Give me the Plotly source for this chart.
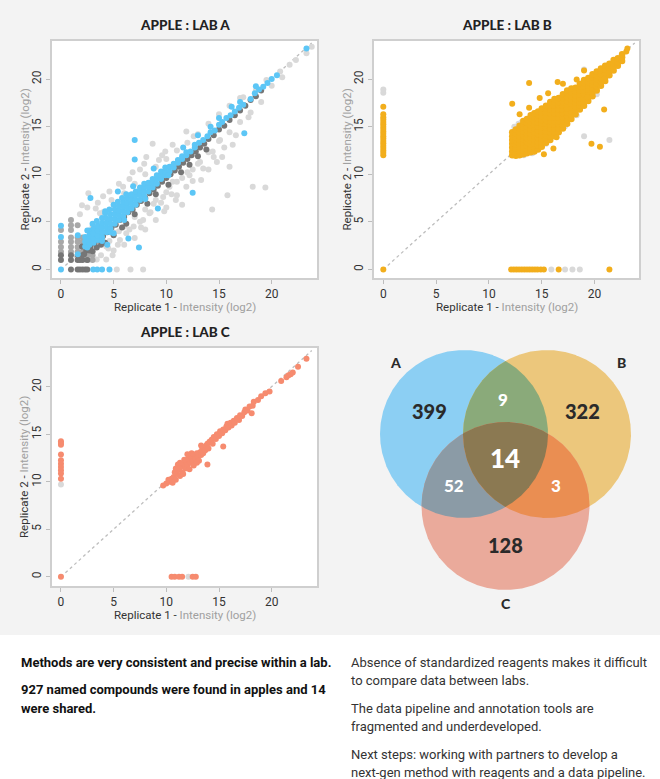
import math
import plotly.graph_objects as go

W, H = 660, 779

# ---------------- DATA ----------------
tick_vals = [0, 5, 10, 15, 20]
panel_titles = ["APPLE : LAB A", "APPLE : LAB B", "APPLE : LAB C"]
x_title = "Replicate 1 - <span style='color:#a0a0a0'>Intensity (log2)</span>"
y_title = "Replicate 2 - <span style='color:#a0a0a0'>Intensity (log2)</span>"
diag_range = [0, 23.8]

# Lab A
a_light = [(11.9,14.5),(8.7,13.2),(10.6,13.1),(9.9,12.4),(8.1,11.8),(7.9,11.1),(5.9,8.7),(4.6,8.2),(4.0,7.7),(2.6,8.0),
           (2.0,6.75),(3.7,5.9),(13.2,11.3),(14.4,12.4),(15.1,13.6),(14.8,11.3),(16.3,13.1),(16.0,10.8),(15.8,7.8),(14.35,6.3),
           (18.2,8.7),(19.4,8.6),(11.9,8.7),(10.9,7.3),(10.3,8.7),(9.7,7.6),(8.8,6.9),(8.4,5.9),(7.8,5.2),(6.9,4.5),
           (6.2,3.8),(5.6,3.1),(5.0,2.0),(4.3,2.4),(7.8,0),(5.3,0),(3.4,1.05),(2.75,1.05),(17.3,18.1),(18.5,18.8),
           (19.5,19.9),(20.8,20.8),(21.7,21.5),(23.3,22.7),(23.8,23.4),(3.0,4.5),(4.0,6.0),(5.0,6.8),(6.0,8.0),(7.0,9.0),
           (8.0,10.0),(9.0,10.8),(10.0,11.6),(11.0,12.5),(12.0,13.3),(13.0,14.2),(14.0,15.3),(15.0,16.3),(16.0,17.2),(17.0,18.0),
           (3.0,1.8),(4.0,2.9),(5.0,3.9),(6.0,4.5),(7.0,5.5),(8.0,6.3),(9.0,7.3),(10.0,8.1),(11.0,9.2),(12.0,10.2),
           (13.0,11.1),(14.0,12.3),(15.0,13.5),(16.0,14.4),(17.0,15.5),(18.0,16.5),(19.0,17.6),(4.5,2.2),(5.5,4.0),(6.5,4.2),
           (7.5,5.0),(8.5,6.0),(9.5,7.0),(10.5,7.9),(11.5,9.6),(12.5,10.5),(13.5,10.6),(14.5,11.8),(15.5,12.8),(6.5,9.5),
           (5.5,9.0),(7.5,10.5),(9.3,11.5),(3.5,7.0),(2.5,6.5),(1.8,5.8),(6.0,2.6),(7.0,3.3),(8.0,4.2),(9.0,5.2),
           (10.0,6.5),(11.0,7.8),(12.5,9.3),(11.5,6.8),(13.3,9.4),(16.6,14.1),(17.8,16.0),(20.0,19.3),(21.0,20.2),(22.3,22.0),
           (6.6,0),(4.3,1.05),(3.8,1.5),(4.9,1.5),(6.8,10.2),(9.6,12.0),(12.6,14.0),(4.6,3.0),(5.4,2.6),(7.6,4.4),
           (9.8,6.1),(10.6,9.2),(12.2,9.9),(14.0,10.5),(15.3,11.8),(3.3,6.4),(4.8,7.3)]
a_mid = [(0,4.13),(0,2.9),(0,2.37),(0,1.85),(0.95,5.2),(0.95,4.65),(0.95,4.13),(0.95,3.36),(0.95,2.9),(0.95,2.37),
         (0.95,1.85),(1.58,3.36),(1.58,2.9),(1.58,2.37),(1.58,1.85),(2.05,3.36),(2.05,2.9),(2.05,2.37),(2.05,1.85),(2.5,1.85),
         (2.5,1.5),(3.0,1.5),(1.58,4.65),(2.5,0.98),(3.0,0.98)]
a_dark = [(0,1.5),(0,0.98),(0.95,0),(0.95,0.98),(0.95,1.5),(1.58,0),(1.8,0),(2.05,0),(2.3,0),(2.5,0),
          (1.58,0.98),(1.8,0.98),(2.05,0.98),(2.5,0.98),(1.58,1.5),(2.05,1.5),(2.4,2.0),(2.8,2.3),(3.2,2.7),(3.6,3.1),
          (4.0,3.5),(4.4,3.9),(4.8,4.4),(5.2,4.7),(5.6,5.2),(6.0,5.5),(6.4,6.0),(6.8,6.3),(7.2,6.8),(7.6,7.2),
          (8.0,7.5),(8.4,8.0),(8.8,8.4),(9.2,8.8),(9.6,9.2),(10.0,9.6),(10.4,10.0),(10.8,10.4),(11.2,10.8),(11.6,11.2),
          (12.0,11.6),(12.4,12.0),(12.8,12.4),(13.2,12.8),(13.6,13.2),(14.0,13.7),(14.5,14.1),(15.0,14.7),(15.5,15.1),(16.0,15.7),
          (16.5,16.2),(17.0,16.7),(17.5,17.2),(18.0,17.8),(18.5,18.2),(19.0,18.8),(2.2,1.6),(2.6,2.6),(3.0,1.9),(3.4,2.3),
          (4.2,2.8),(5.0,3.6),(5.8,4.4),(6.2,4.8),(7.0,5.8),(8.2,6.9),(9.0,7.9),(10.2,8.9),
          (11.4,10.2),(12.2,11.0),(13.0,11.9),(13.8,12.6),(2.0,2.4),(2.7,2.0),(3.8,2.6)]
a_blue = [(0,0),(0,3.4),(0,4.6),(1.6,1.6),(1.6,3.6),(3.06,0),(3.44,0),(3.9,0),(4.6,0),
          (2.3,2.4),(2.3,2.9),(2.3,3.4),(2.7,2.6),(2.7,3.1),(2.7,3.6),(2.7,4.1),
          (3.1,2.8),(3.1,3.3),(3.1,3.8),(3.1,4.3),(3.0,4.8),(3.5,3.1),(3.5,3.6),(3.5,4.1),(3.5,4.6),(3.4,5.1),
          (3.9,3.4),(3.9,3.9),(3.9,4.4),(3.9,4.9),(3.9,5.4),(4.3,3.9),(4.3,4.4),(4.3,4.9),(4.3,5.4),(4.2,5.9),
          (4.7,4.3),(4.7,4.8),(4.7,5.3),(4.7,5.8),(4.6,6.3),(5.1,4.8),(5.1,5.3),(5.1,5.8),(5.1,6.3),(5.0,6.8),
          (5.5,5.2),(5.5,5.7),(5.5,6.2),(5.5,6.7),(5.4,7.1),(5.9,5.6),(5.9,6.1),(5.9,6.6),(5.9,7.1),(5.8,7.5),
          (6.3,6.0),(6.3,6.5),(6.3,7.0),(6.3,7.5),(6.7,6.4),(6.7,6.9),(6.7,7.4),(6.7,7.9),(6.2,7.9),
          (7.1,6.8),(7.1,7.3),(7.1,7.8),(7.1,8.2),(7.5,7.3),(7.5,7.8),(7.5,8.3),(7.5,8.6),
          (7.9,7.7),(7.9,8.2),(7.9,8.7),(7.9,9.0),(8.3,8.2),(8.3,8.7),(8.3,9.1),(8.7,8.6),(8.7,9.1),(8.7,9.5),
          (9.1,9.0),(9.1,9.5),(9.1,9.9),(9.5,9.5),(9.5,9.9),(9.5,10.3),(9.9,9.9),(9.9,10.3),(9.9,10.7),
          (10.3,10.3),(10.3,10.8),(10.7,10.7),(10.7,11.1),(11.1,11.2),(11.1,11.5),(11.5,11.6),(11.5,11.9),
          (11.9,12.0),(11.9,12.3),(12.3,12.4),(12.7,12.8),(12.7,13.1),(13.1,13.3),(13.5,13.6),(13.9,14.0),
          (14.2,14.4),(14.6,14.6),(15.0,15.2),(15.3,15.5),(15.7,15.9),(16.1,16.2),(16.5,16.6),(16.9,17.0),
          (17.3,17.3),(18.0,17.9),(18.4,18.5),(18.8,18.9),(19.2,19.2),(19.6,19.6),(20.0,20.0),(20.5,20.4),(23.3,23.2),
          (7.0,13.6),(7.0,11.55),(17.4,14.3),(12.5,8.05),(2.8,7.5),(7.4,2.3),(6.4,3.25),(5.4,8.2),(6.85,8.75),
          (9.2,6.4),(18.5,19.25),(16.2,17.1),(15.0,15.9),(4.2,6.1),(2.5,4.1),(2.5,2.3),(8.8,10.6),(11.6,12.8),
          (13.0,14.1),(14.2,15.0),(17.0,17.6),(5.0,3.8),(4.4,2.6),(3.9,3.0),(4.7,3.9),(6.0,5.2),(8.0,7.4),(10.2,9.9)]

# Lab B
b_band_x = [12.2, 12.55, 12.9, 13.25, 13.6, 13.95, 14.3, 14.65, 15.0, 15.4, 15.8, 16.2, 16.6,
            17.0, 17.4, 17.8, 18.2, 18.6, 19.0, 19.4, 19.8, 20.2, 20.6, 21.0, 21.4, 21.8, 22.2, 22.6]
b_band_y = [[12.0,12.4,12.8,13.2,13.6,14.0,14.4],
            [11.95,12.3,12.7,13.1,13.5,13.9,14.3,14.7],
            [12.0,12.4,12.8,13.2,13.6,14.0,14.4,14.8,15.1],
            [12.1,12.5,12.9,13.3,13.7,14.1,14.5,14.9,15.3,15.6],
            [12.2,12.6,13.0,13.4,13.8,14.2,14.6,15.0,15.4,15.8],
            [12.3,12.7,13.1,13.5,13.9,14.3,14.7,15.1,15.5,15.9,16.2],
            [12.4,12.8,13.2,13.6,14.0,14.4,14.8,15.2,15.6,16.0,16.4],
            [12.6,13.0,13.4,13.8,14.2,14.6,15.0,15.4,15.8,16.2,16.6],
            [12.9,13.3,13.7,14.1,14.5,14.9,15.3,15.7,16.1,16.5,16.9],
            [13.3,13.7,14.1,14.5,14.9,15.3,15.7,16.1,16.5,16.9,17.2],
            [13.6,14.0,14.4,14.8,15.2,15.6,16.0,16.4,16.8,17.2,17.6],
            [14.0,14.4,14.8,15.2,15.6,16.0,16.4,16.8,17.2,17.6,17.9],
            [14.4,14.8,15.2,15.6,16.0,16.4,16.8,17.2,17.6,18.0],
            [14.8,15.2,15.6,16.0,16.4,16.8,17.2,17.6,18.0,18.4],
            [15.3,15.7,16.1,16.5,16.9,17.3,17.7,18.1,18.5,18.8],
            [15.8,16.2,16.6,17.0,17.4,17.8,18.2,18.6,19.0],
            [16.3,16.7,17.1,17.5,17.9,18.3,18.7,19.1],
            [16.8,17.2,17.6,18.0,18.4,18.8,19.2,19.5],
            [17.2,17.6,18.0,18.4,18.8,19.2,19.6,19.9],
            [17.7,18.1,18.5,18.9,19.3,19.7,20.1],
            [18.2,18.6,19.0,19.4,19.8,20.2,20.5],
            [18.8,19.2,19.6,20.0,20.4,20.8],
            [19.3,19.7,20.1,20.5,20.9,21.1],
            [19.8,20.2,20.6,21.0,21.4],
            [20.4,20.8,21.2,21.6],
            [20.9,21.3,21.7,22.0],
            [21.4,21.8,22.2],
            [21.9,22.3,22.6]]
b_left_y = [0, 12.0, 12.25, 12.5, 12.75, 13.0, 13.25, 13.5, 13.75, 14.0, 14.25, 14.5, 14.75,
            15.0, 15.25, 15.5, 15.75, 16.0, 16.3, 17.1]
b_bottom_x = [12.1, 12.35, 12.6, 12.85, 13.1, 13.35, 13.6, 13.85, 14.1, 14.35, 14.6, 14.9,
              15.2, 16.6, 21.4]
b_outliers = [(13.8,19.6),(12.2,17.4),(12.9,16.3),(13.8,17.0),(14.8,18.0),(15.6,18.5),(16.5,19.7),
              (17.0,19.5),(18.3,19.95),(19.0,20.9),(20.9,16.8),(19.7,13.2),(20.5,12.9),(15.2,12.1),
              (16.1,12.7),(16.4,13.9),(19.3,18.1),(23.0,22.9),(23.1,23.2)]
b_gray = [(0,18.9),(0,18.55),(19.0,14.0),(21.4,13.6),(17.2,15.05),(17.7,15.9),(18.0,16.9),(19.0,21.0),
          (12.4,15.0),(12.8,15.3),(13.1,15.5),(18.3,16.2),(16.4,14.6),(15.4,13.2),(15.9,0),(17.2,0),
          (17.9,0),(18.6,0),(13.3,12.0),(14.1,12.2),(20.2,18.4)]

# Lab C
c_main = [(9.7,9.6),(10.0,9.8),(10.3,10.0),(10.5,10.3),(10.2,10.2),(10.7,10.5),(10.9,10.2),(11.0,10.8),
          (10.8,11.0),(11.2,11.3),(11.3,10.6),(11.5,11.0),(11.4,11.6),(11.6,11.9),(11.8,11.4),(11.9,12.1),
          (11.1,11.8),(11.7,12.3),(12.0,11.7),(12.1,12.4),(12.3,12.0),(12.2,11.3),(12.4,12.6),(12.5,12.2),
          (12.6,11.7),(12.7,12.8),(12.8,12.4),(12.9,13.0),(13.0,12.6),(13.1,12.2),(13.2,13.1),(13.3,12.8),
          (13.4,13.4),(13.5,13.0),(13.6,13.6),(13.7,13.3),(13.8,13.8),(13.9,11.8),(13.9,14.0),(14.0,13.5),
          (14.1,14.2),(14.3,14.4),(14.4,14.0),(14.5,14.7),(14.7,14.5),(14.8,15.0),(15.0,14.8),(15.1,15.3),
          (15.3,15.1),(15.4,13.7),(15.4,15.5),(15.6,15.4),(15.7,15.8),(15.8,16.1),(15.9,15.7),(16.1,16.2),
          (16.2,15.9),(16.4,16.4),(16.5,16.2),(16.7,16.7),(16.9,16.5),(17.0,17.0),(17.2,16.9),(17.4,17.3),
          (17.5,17.6),(17.7,17.5),(17.9,17.9),(18.1,17.2),(18.2,18.0),(18.3,18.4),(18.7,18.6),(19.0,19.0),
          (19.4,19.3),(19.8,19.5),(20.9,20.6),(21.4,21.0),(21.6,21.2),(21.8,21.3),(22.0,21.5),(22.5,22.1),
          (23.3,22.95),(10.6,9.9),(11.3,12.0),(10.9,11.4),(11.6,10.8),(12.4,13.0),(12.9,12.0),(12.0,12.9),
          (13.3,13.8),(0,0)]
c_left_y = [14.25, 14.07, 13.9, 12.85, 12.25, 11.9, 11.55, 11.2, 10.85, 10.3]
c_bottom_x = [10.5, 10.8, 11.2, 11.5, 12.5, 12.8]
c_gray = [(0, 9.69), (12.1, 0)]

# Venn
venn_names = ["A", "B", "C"]
venn_counts = {"A": 399, "B": 322, "C": 128, "AB": 9, "AC": 52, "BC": 3, "ABC": 14}
venn_colors = {"A": "#8ccff3", "B": "#ecc77c", "C": "#eaaa9b", "AB": "#8aaa7a",
               "AC": "#8b9ba6", "BC": "#ea8e52", "ABC": "#8b7952"}

# Notes
left_paras = [["Methods are very consistent and precise within a lab."],
              ["927 named compounds were found in apples and 14", "were shared."]]
right_paras = [["Absence of standardized reagents makes it difficult", "to compare data between labs."],
               ["The data pipeline and annotation tools are", "fragmented and underdeveloped."],
               ["Next steps: working with partners to develop a",
                "next-gen method with reagents and a data pipeline."]]

# ---------------- FIGURE ----------------
def px(x):
    return x / W

def py(y):
    return 1 - y / H

fig = go.Figure()

BLUE = "#5cc6f6"
ORANGE = "#f2ae1c"
SALMON = "#f68b6f"
LIGHT = "#d9d9d9"
MID = "#a8a8a8"
DARK = "#767676"
MS = 6

def xs(pts):
    return [p[0] for p in pts]

def ys(pts):
    return [p[1] for p in pts]

def add_diag(ax):
    fig.add_trace(go.Scatter(x=diag_range, y=diag_range, mode="lines",
                             line=dict(color="#bdbdbd", width=1.3, dash="dot"),
                             xaxis="x" + ax, yaxis="y" + ax, hoverinfo="skip"))

def add_pts(xv, yv, color, ax, size=MS):
    fig.add_trace(go.Scatter(x=xv, y=yv, mode="markers",
                             marker=dict(color=color, size=size, line=dict(width=0)),
                             xaxis="x" + ax, yaxis="y" + ax))

# Panel A
add_diag("")
add_pts(xs(a_light), ys(a_light), LIGHT, "")
add_pts(xs(a_mid), ys(a_mid), MID, "")
add_pts(xs(a_dark), ys(a_dark), DARK, "")
add_pts(xs(a_blue), ys(a_blue), BLUE, "")

# Panel B
add_diag("2")
add_pts(xs(b_gray), ys(b_gray), LIGHT, "2")
bx, by = [], []
for x0, col in zip(b_band_x, b_band_y):
    for yv in col:
        bx.append(x0)
        by.append(yv)
add_pts(bx, by, ORANGE, "2", size=6.5)
ox = [0] * len(b_left_y) + b_bottom_x + xs(b_outliers)
oy = b_left_y + [0] * len(b_bottom_x) + ys(b_outliers)
add_pts(ox, oy, ORANGE, "2")

# Panel C
add_diag("3")
add_pts(xs(c_gray), ys(c_gray), LIGHT, "3")
cx = xs(c_main) + [0] * len(c_left_y) + c_bottom_x
cy = ys(c_main) + c_left_y + [0] * len(c_bottom_x)
add_pts(cx, cy, SALMON, "3")

# Venn (pixel coordinates on axis 4)
circ = {"A": (464, 434, 84), "B": (547, 434, 84), "C": (505.5, 506, 84)}

def region(keys, n=1440):
    cs = [circ[k] for k in keys]
    pts = []
    for i, (cx0, cy0, r) in enumerate(cs):
        for k in range(n):
            t = 2 * math.pi * k / n
            x = cx0 + r * math.cos(t)
            y = cy0 + r * math.sin(t)
            ok = all((x - ox_) ** 2 + (y - oy_) ** 2 <= orr ** 2 + 1e-6
                     for j, (ox_, oy_, orr) in enumerate(cs) if j != i)
            if ok:
                pts.append((x, y))
    mx = sum(p[0] for p in pts) / len(pts)
    my = sum(p[1] for p in pts) / len(pts)
    pts.sort(key=lambda p: math.atan2(p[1] - my, p[0] - mx))
    pts.append(pts[0])
    return pts

for key in ["A", "B", "C", "AB", "AC", "BC", "ABC"]:
    poly = region(list(key))
    fig.add_trace(go.Scatter(x=xs(poly), y=ys(poly), mode="lines", fill="toself",
                             fillcolor=venn_colors[key], line=dict(width=0),
                             xaxis="x4", yaxis="y4", hoverinfo="skip"))

venn_text_pos = {"A": (429, 411), "B": (582, 411), "C": (505, 545), "AB": (503, 400),
                 "AC": (454, 486), "BC": (556, 486), "ABC": (505, 458)}
venn_text_size = {"A": 20, "B": 20, "C": 20, "AB": 17, "AC": 17, "BC": 17, "ABC": 26}
venn_text_col = {"A": "#2a2a2a", "B": "#2a2a2a", "C": "#2a2a2a", "AB": "white",
                 "AC": "white", "BC": "white", "ABC": "white"}
venn_label_pos = {"A": (395, 363), "B": (621, 363), "C": (506, 603)}

annotations = []
for key, val in venn_counts.items():
    x0, y0 = venn_text_pos[key]
    annotations.append(dict(x=x0, y=y0, xref="x4", yref="y4", text=str(val), showarrow=False,
                            xanchor="center", yanchor="middle",
                            font=dict(family="Lato", size=venn_text_size[key], color=venn_text_col[key],
                                      weight=900)))
for name in venn_names:
    x0, y0 = venn_label_pos[name]
    annotations.append(dict(x=x0, y=y0, xref="x4", yref="y4", text=name, showarrow=False,
                            xanchor="center", yanchor="middle",
                            font=dict(family="Lato", size=14, color="#2a2a2a", weight=900)))

# panel geometry (pixels): left, right, top, bottom
panels = [("", (52, 317, 41, 278), (-0.85, 24.3), (-0.9, 24.0)),
          ("2", (374, 639, 41, 278), (-0.88, 24.2), (-0.9, 24.0)),
          ("3", (52, 317, 348, 586), (-0.85, 24.3), (-0.98, 24.07))]

layout_axes = {}
shapes = [dict(type="rect", xref="paper", yref="paper", x0=0, x1=1, y0=py(635), y1=1,
               fillcolor="#f3f3f3", line=dict(width=0), layer="below")]
for idx, (ax, (l, r, t, b), xr, yr) in enumerate(panels):
    xname = "xaxis" + ax
    yname = "yaxis" + ax
    common = dict(showgrid=False, zeroline=False, showline=True, mirror=True,
                  linecolor="#cfcfcf", linewidth=1.5, ticks="outside", ticklen=4,
                  tickcolor="#bdbdbd", tickwidth=1, tickvals=tick_vals,
                  tickfont=dict(family="Roboto", size=12, color="#333333"))
    layout_axes[xname] = dict(domain=[px(l), px(r)], range=list(xr), anchor="y" + ax, **common)
    layout_axes[yname] = dict(domain=[py(b), py(t)], range=list(yr), anchor="x" + ax,
                              tickangle=-90, **common)
    shapes.append(dict(type="rect", xref="x" + ax + " domain", yref="y" + ax + " domain",
                       x0=0, x1=1, y0=0, y1=1, fillcolor="white", line=dict(width=0), layer="below"))
    cxp = (l + r) / 2
    annotations.append(dict(x=px(cxp), y=py(t - 16), xref="paper", yref="paper",
                            text=panel_titles[idx], showarrow=False,
                            xanchor="center", yanchor="middle",
                            font=dict(family="Lato", size=13.5, color="#222222", weight=900)))
    annotations.append(dict(x=px(cxp), y=py(b + 29), xref="paper", yref="paper",
                            text=x_title, showarrow=False, xanchor="center", yanchor="middle",
                            font=dict(family="Roboto", size=11.5, color="#333333")))
    annotations.append(dict(x=px(l - 28), y=py((t + b) / 2), xref="paper", yref="paper",
                            text=y_title, showarrow=False, textangle=-90,
                            xanchor="center", yanchor="middle",
                            font=dict(family="Roboto", size=11.5, color="#333333")))

layout_axes["xaxis4"] = dict(domain=[px(330), 1.0], range=[330, 660], visible=False,
                             anchor="y4", fixedrange=True)
layout_axes["yaxis4"] = dict(domain=[py(610), py(310)], range=[610, 310], visible=False,
                             anchor="x4", fixedrange=True)

# Notes text
def add_notes(paras, x0, y0, bold, color):
    yy = y0
    for para in paras:
        for line in para:
            annotations.append(dict(x=px(x0), y=py(yy), xref="paper", yref="paper",
                                    text=("<b>%s</b>" % line) if bold else line,
                                    showarrow=False, xanchor="left", yanchor="middle",
                                    font=dict(family="Roboto", size=13, color=color)))
            yy += 18.2
        yy += 9.7

add_notes(left_paras, 19, 662, True, "#111111")
add_notes(right_paras, 349, 662, False, "#333333")

fig.update_layout(width=W, height=H, margin=dict(l=0, r=0, t=0, b=0),
                  paper_bgcolor="white", plot_bgcolor="rgba(0,0,0,0)",
                  showlegend=False, shapes=shapes, annotations=annotations,
                  **layout_axes)

fig.write_html("out.html", config={"displayModeBar": False},
               post_script="document.body.style.margin='0';")
